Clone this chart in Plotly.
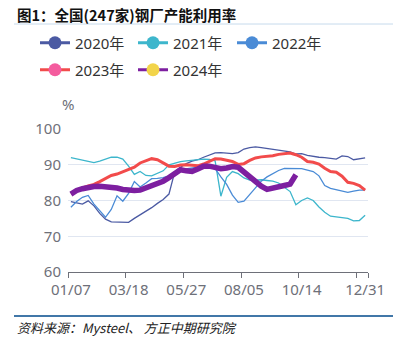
import plotly.graph_objects as go

categories = ["01/07","01/14","01/21","01/28","02/04","02/11","02/18","02/25","03/04","03/11",
              "03/18","03/25","04/01","04/08","04/15","04/22","04/29","05/06","05/13","05/20",
              "05/27","06/03","06/10","06/17","06/24","07/01","07/08","07/15","07/22","07/29",
              "08/05","08/12","08/19","08/26","09/02","09/09","09/16","09/23","09/30","10/07",
              "10/14","10/21","10/28","11/04","11/11","11/18","11/25","12/02","12/09","12/16",
              "12/23","12/31"]
label_ticks = ["01/07", "03/18", "05/27", "08/05", "10/14", "12/31"]
y_ticks = [60, 70, 80, 90, 100]

y2020 = [79.7, 79.3, 79.0, 79.9, 78.5, 76.4, 74.8, 74.0, 73.9, 73.9,
         73.9, 75.0, 76.0, 76.9, 78.0, 79.2, 80.3, 81.8, 88.0, 89.3,
         90.3, 91.0, 91.4, 92.1, 92.6, 93.3, 93.4, 93.2, 93.1, 93.4,
         94.4, 94.8, 95.0, 94.8, 94.6, 94.4, 94.2, 94.0, 93.6, 93.0,
         93.1, 92.6, 92.3, 92.1, 92.0, 91.8, 91.6, 92.5, 92.3, 91.4,
         91.7, 91.9]
y2021 = [92.0, 91.6, 91.3, 91.0, 90.6, 91.0, 91.5, 92.1, 92.1, 91.6,
         89.6, 87.3, 88.1, 87.0, 86.9, 87.5, 88.3, 90.0, 90.5, 90.9,
         91.1, 91.3, 91.5, 91.6, 91.5, 91.1, 81.2, 86.5, 88.1, 87.5,
         86.3, 85.7, 85.7, 85.8, 85.6, 85.4, 84.9, 83.6, 82.5, 78.8,
         80.0, 80.7, 80.0, 78.2, 76.7, 75.6, 75.4, 75.2, 75.0, 74.3,
         74.4, 75.9]
y2022 = [78.1, 79.7, 80.9, 81.4, 79.0, 77.3, 75.3, 77.5, 81.3, 79.8,
         82.0, 85.3, 83.8, 84.9, 86.1, 86.2, 86.4, 86.9, 87.9, 88.6,
         88.9, 89.0, 89.3, 89.4, 89.2, 88.9, 86.6, 84.5, 81.5, 79.5,
         79.8, 81.7, 83.5, 85.4, 86.6, 87.6, 88.4, 89.0, 89.0, 89.0,
         88.9, 88.5, 88.1, 86.9, 84.2, 83.4, 83.1, 82.8, 82.3, 82.6,
         82.9, 82.9]
y2023 = [82.0, 82.8, 83.5, 84.1, 84.5, 85.3, 86.2, 87.0, 87.4, 88.0,
         88.6, 89.3, 90.5, 91.2, 91.7, 91.4, 90.6, 89.6, 89.5, 89.9,
         90.0, 89.8, 89.7, 90.2, 91.0, 91.7, 91.6, 91.2, 90.9, 90.1,
         90.3, 91.2, 91.9, 92.2, 92.3, 92.5, 92.9, 93.2, 93.3, 92.8,
         92.1, 90.9, 90.7, 90.2, 89.0, 88.1, 87.9, 86.8, 85.1, 84.8,
         84.2, 82.9]
y2024 = [81.8, 82.8, 83.3, 83.7, 83.9, 84.0, 83.9, 83.8, 83.5, 83.1,
         82.8, 82.8, 82.9, 83.5, 84.2, 84.7, 85.4, 86.4, 87.6, 88.6,
         88.3, 88.1, 88.8, 89.6, 89.6, 89.3, 88.9, 89.1, 89.5, 89.3,
         87.9, 86.5, 85.3, 84.0, 83.1, 83.6, 83.9, 84.2, 84.6, 87.2]

series = [
    ("2020年", y2020, "#4b5aa3", "#4b5aa3", 1.3),
    ("2021年", y2021, "#3db6cc", "#3db6cc", 1.3),
    ("2022年", y2022, "#4a8bd6", "#4a8bd6", 1.3),
    ("2023年", y2023, "#f24b4b", "#f45c9e", 3),
    ("2024年", y2024, "#7d1fa0", "#f2d44a", 5.5),
]

fig = go.Figure()
for name, vals, lc, mc, w in series:
    fig.add_trace(go.Scatter(x=categories[:len(vals)], y=vals, mode="lines",
                             line=dict(color=lc, width=w), showlegend=False,
                             hoverinfo="skip"))

legend_ids = ["legend", "legend2", "legend3", "legend4", "legend5"]
legend_pos = [(35, 43), (133, 43), (232, 43), (35, 70), (133, 70)]
W, H = 393, 344
legend_layout = {}
for (name, vals, lc, mc, w), lid, (px, py) in zip(series, legend_ids, legend_pos):
    fig.add_trace(go.Scatter(x=[None], y=[None], xaxis="x2", mode="lines+markers", name=name,
                             line=dict(color=lc, width=3), marker=dict(color=mc, size=13),
                             legend=lid, showlegend=True))
    legend_layout[lid] = dict(xref="container", yref="container", x=px / W, y=1 - py / H,
                              xanchor="left", yanchor="middle", orientation="h",
                              bgcolor="rgba(0,0,0,0)", borderwidth=0,
                              font=dict(family="Noto Sans, Noto Sans CJK SC", size=15, color="#333333"))

L, R, T, B = 68, 368, 129, 272
pw, ph = R - L, B - T
def px2x(p):
    return (p - L) / pw
def py2y(p):
    return (B - p) / ph

grey = "#6E7079"
n = len(categories)
fig.update_layout(
    width=W, height=H,
    margin=dict(l=L, r=W - R, t=T, b=H - B, autoexpand=False),
    paper_bgcolor="white", plot_bgcolor="white",
    font=dict(family="Noto Sans, Noto Sans CJK SC", size=15, color=grey),
    xaxis=dict(type="category", range=[-0.5, n - 0.5], tickmode="array", tickvals=label_ticks,
               ticktext=label_ticks, ticks="", showline=True, linecolor=grey, linewidth=1,
               showgrid=False, zeroline=False, tickfont=dict(size=15, color=grey),
               ticklabelstandoff=4),
    xaxis2=dict(type="linear", overlaying="x", anchor="y", side="bottom",
                range=[-0.5, n - 0.5], tickmode="array",
                tickvals=[-0.5, 9.5, 19.5, 29.5, 39.5, 49.5, n - 0.5],
                ticks="outside", ticklen=5, tickcolor=grey, tickwidth=1,
                showticklabels=False, showgrid=False, showline=False, zeroline=False),
    yaxis=dict(range=[60, 100], tickmode="array", tickvals=y_ticks, ticks="",
               showgrid=True, gridcolor="#E0E6F1", gridwidth=1, zeroline=False,
               showline=False, tickfont=dict(size=15, color=grey), ticklabelstandoff=6),
    showlegend=True,
    annotations=[
        dict(text="图1：全国(247家)钢厂产能利用率", xref="paper", yref="paper",
             x=px2x(15), y=py2y(14.5), xanchor="left", yanchor="middle", showarrow=False,
             font=dict(family="Noto Sans CJK SC", size=14.5, color="#111111", weight=700)),
        dict(text="%", xref="paper", yref="paper", x=px2x(68), y=py2y(104),
             xanchor="center", yanchor="middle", showarrow=False,
             font=dict(size=15, color=grey)),
        dict(text="资料来源：Mysteel、 方正中期研究院", xref="paper", yref="paper",
             x=px2x(15), y=py2y(327), xanchor="left", yanchor="middle", showarrow=False,
             font=dict(family="Noto Sans CJK SC", size=13, color="#222222", style="italic")),
    ],
    shapes=[
        dict(type="line", xref="paper", yref="paper", x0=px2x(14), x1=px2x(393),
             y0=py2y(24), y1=py2y(24), line=dict(color="#C6DAEC", width=1)),
        dict(type="line", xref="paper", yref="paper", x0=px2x(14), x1=px2x(393),
             y0=py2y(316), y1=py2y(316), line=dict(color="#4177A8", width=2)),
    ],
    **legend_layout,
)

fig.write_html("out.html")
